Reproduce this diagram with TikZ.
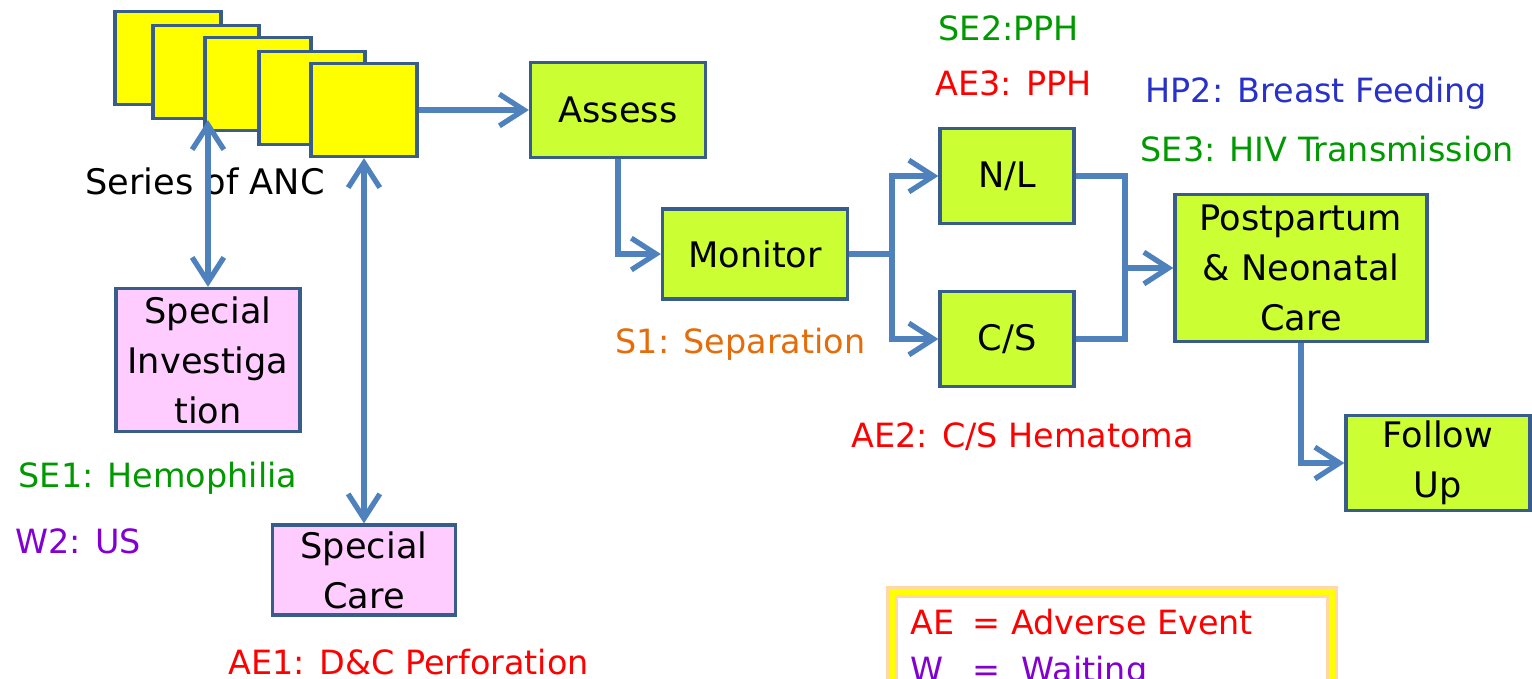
\documentclass[tikz,border=0pt]{standalone}
\usepackage{fontspec}
\setmainfont{DejaVu Sans}
\usepackage{tikz}
\usetikzlibrary{arrows.meta, positioning, calc}
\definecolor{boxline}{RGB}{56,93,138}
\definecolor{flowblue}{RGB}{79,129,189}
\definecolor{limefill}{RGB}{204,255,51}
\definecolor{pinkfill}{RGB}{255,204,255}
\definecolor{ancfill}{RGB}{255,255,0}
\definecolor{segreen}{RGB}{0,153,0}
\definecolor{aered}{RGB}{255,0,0}
\definecolor{hpblue}{RGB}{40,50,200}
\definecolor{sorange}{RGB}{228,108,10}
\definecolor{wpurple}{RGB}{130,0,210}
\definecolor{glow}{RGB}{255,216,168}

\begin{document}
\begin{tikzpicture}[
  x=0.01cm, y=-0.01cm,
  every node/.style={font=\fontsize{10pt}{14.2pt}\selectfont},
  anc/.style={draw=boxline, line width=0.9pt, fill=ancfill, minimum width=1.06cm, minimum height=0.93cm, inner sep=0pt},
  stage/.style={draw=boxline, line width=0.9pt, fill=limefill, align=center, inner sep=0pt},
  special/.style={draw=boxline, line width=0.9pt, fill=pinkfill, align=center, inner sep=0pt},
  arrow/.style={-{Straight Barb[length=7pt, width=9pt]}, line width=1.5pt, color=flowblue},
  dblarrow/.style={{Straight Barb[length=7pt, width=9pt]}-{Straight Barb[length=7pt, width=9pt]}, line width=1.5pt, color=flowblue},
  link/.style={line width=1.5pt, color=flowblue},
  note/.style={font=\fontsize{9.5pt}{12pt}\selectfont, inner sep=0pt, anchor=west}
]
  \useasboundingbox (0,0) rectangle (1532,678);
  \clip (0,0) rectangle (1532,678);

  % Serie di visite ANC
  \node[anc] (anc1) at (168,58) {};
  \node[anc] (anc2) at (206,72) {};
  \node[anc] (anc3) at (258,84) {};
  \node[anc] (anc4) at (312,98) {};
  \node[anc] (anc5) at (364,110) {};
  \node (anclabel) at (205,181) {Series of ANC};

  % Passi
  \node[stage, minimum width=1.75cm, minimum height=0.95cm] (assess) at (618,110) {Assess};
  \node[stage, minimum width=1.85cm, minimum height=0.90cm] (monitor) at (755,254) {Monitor};
  \node[stage, minimum width=1.34cm, minimum height=0.95cm] (nl) at (1007,176) {N/L};
  \node[stage, minimum width=1.34cm, minimum height=0.95cm] (cs) at (1007,339) {C/S};
  \node[stage, minimum width=2.52cm, minimum height=1.47cm] (pp) at (1301,268) {Postpartum\\ \& Neonatal\\ Care};
  \node[stage, minimum width=1.84cm, minimum height=0.95cm] (fu) at (1438,463) {Follow\\ Up};

  \node[special, minimum width=1.84cm, minimum height=1.43cm] (sinv) at (208,360) {Special\\ Investiga\\ tion};
  \node[special, minimum width=1.83cm, minimum height=0.90cm] (scare) at (364,570) {Special\\ Care};

  % Eventi
  \node[note, text=segreen] (se2) at (938,28) {SE2:PPH};
  \node[note, text=aered] (ae3) at (935,83) {AE3: PPH};
  \node[note, text=hpblue] (hp2) at (1145,93) {HP2: Breast Feeding};
  \node[note, text=segreen] (se3) at (1140,149) {SE3: HIV Transmission};
  \node[note, text=sorange] (s1) at (615,344) {S1: Separation};
  \node[note, text=aered] (ae2) at (851,437) {AE2: C/S Hematoma};
  \node[note, text=segreen] (se1) at (18,478) {SE1: Hemophilia};
  \node[note, text=wpurple] (w2) at (15,541) {W2: US};
  \node[note, text=aered] (ae1) at (228,662) {AE1: D\&C Perforation};

  % Legenda
  \node[draw=ancfill, line width=1.8pt, preaction={draw=glow, line width=3.4pt}, minimum width=4.40cm, minimum height=1.16cm] (legend) at (1112,650) {};
  \node[note, text=aered] (legae) at (910,622) {\makebox[17.6pt][l]{AE}= Adverse Event};
  \node[note, text=wpurple] (legw) at (910,672) {\makebox[17.6pt][l]{W}=\ \ Waiting};

  \coordinate (split) at (892,254);
  \coordinate (merge) at (1125,268);

  \draw[arrow] (anc5.east) -- (assess.west);
  \draw[dblarrow] (sinv.north |- anc2.south) -- (sinv.north);
  \draw[dblarrow] (scare.north |- anc5.south) -- (scare.north);
  \draw[arrow] (assess.south) |- (monitor.west);
  \draw[link] (monitor.east) -- (split);
  \draw[arrow] (split) |- (nl.west);
  \draw[arrow] (split) |- (cs.west);
  \draw[link] (nl.east) -| (merge);
  \draw[link] (cs.east) -| (merge);
  \draw[arrow] (merge) -- (pp.west);
  \draw[arrow] (pp.south) |- (fu.west);

\end{tikzpicture}
\end{document}
